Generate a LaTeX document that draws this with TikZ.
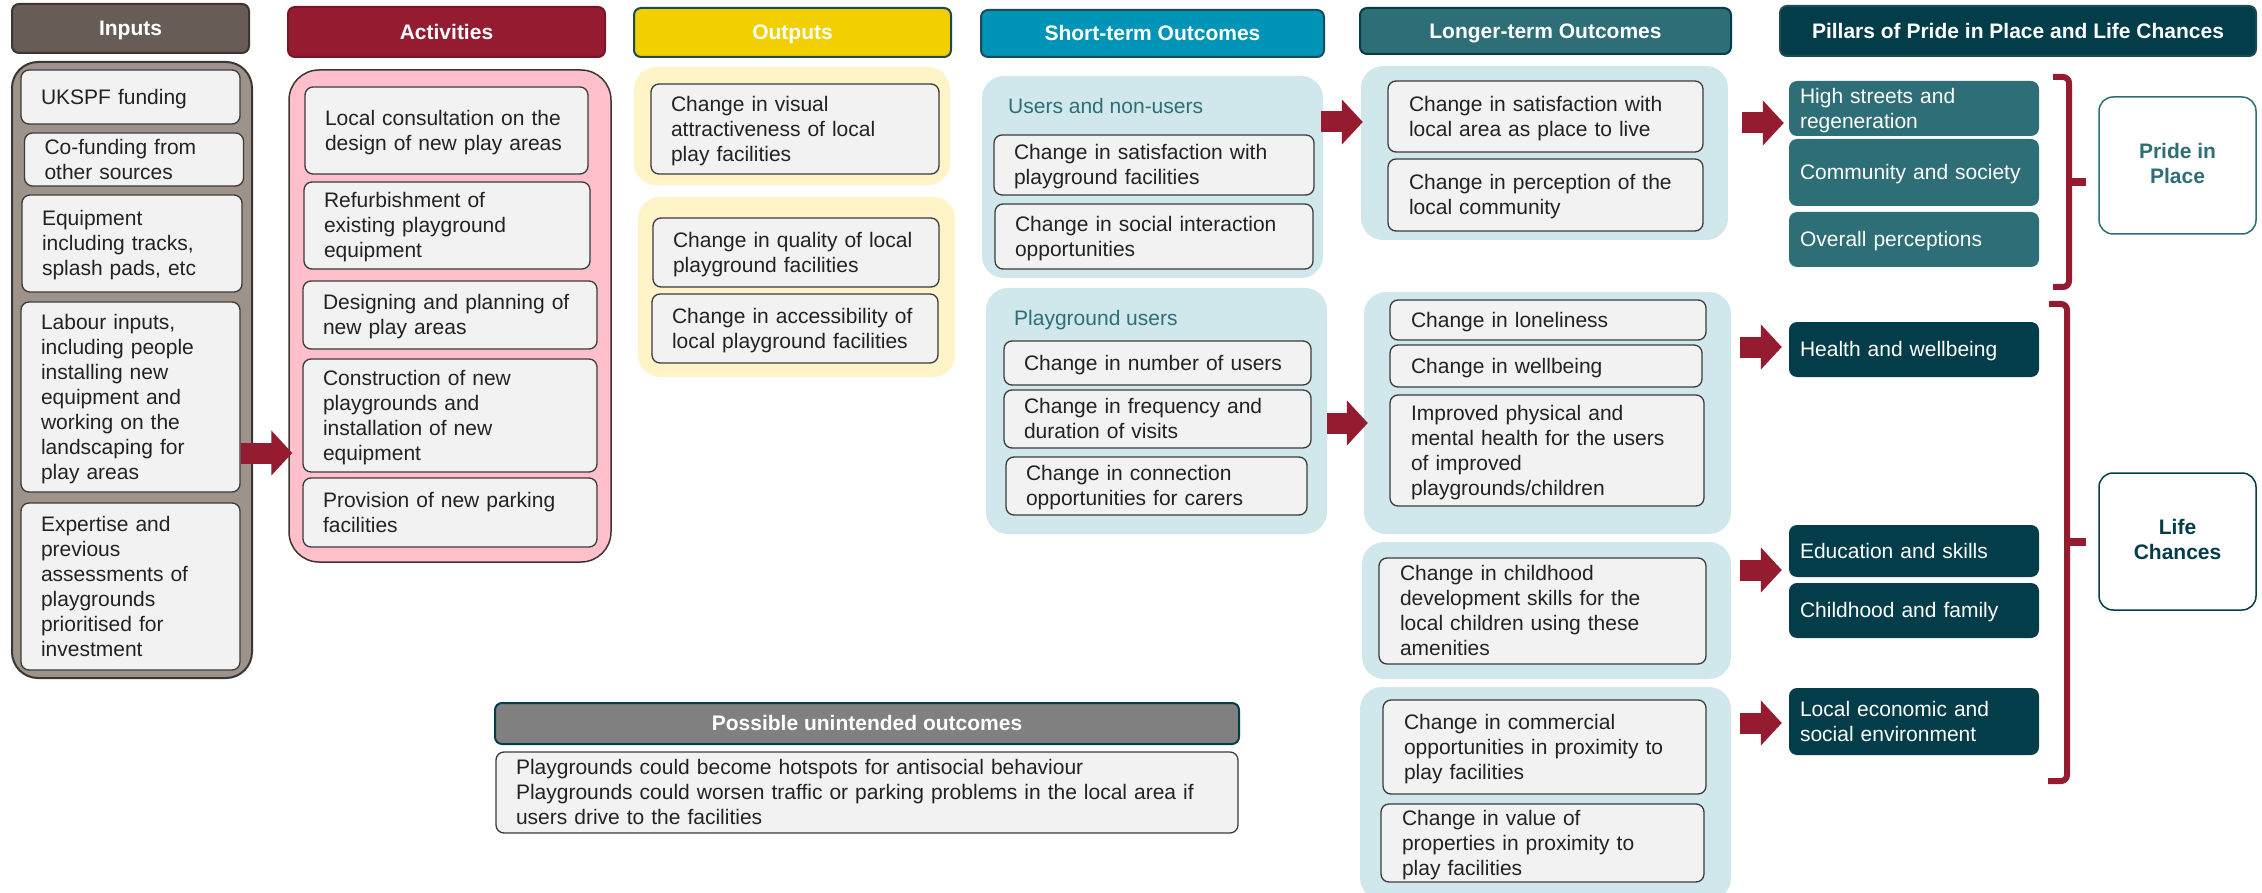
\documentclass[tikz,border=0pt]{standalone}
\usepackage{fontspec}
\setmainfont{Liberation Sans}
\usetikzlibrary{arrows.meta}

\definecolor{inhdr}{HTML}{675D56}
\definecolor{inbody}{HTML}{9E938A}
\definecolor{inedge}{HTML}{3D3532}
\definecolor{actred}{HTML}{941B30}
\definecolor{actpink}{HTML}{FFC0CB}
\definecolor{outyel}{HTML}{F2CF00}
\definecolor{outpale}{HTML}{FFF4C8}
\definecolor{stblue}{HTML}{0094B7}
\definecolor{ltteal}{HTML}{2E6E77}
\definecolor{pildark}{HTML}{033D4A}
\definecolor{pale}{HTML}{D0E8EC}
\definecolor{cellgrey}{HTML}{F2F2F2}
\definecolor{edge}{HTML}{3A3A3A}
\definecolor{hdredge}{HTML}{1C4A55}
\definecolor{txt}{HTML}{222222}
\definecolor{arrred}{HTML}{951B30}
\definecolor{ungrey}{HTML}{808080}

\newcommand{\topgap}{\rule{0pt}{19pt}}
\newcommand{\botgap}{\rule[-4.5pt]{0pt}{4.5pt}}

\begin{document}
\begin{tikzpicture}[x=1pt,y=-1pt,
		font=\fontsize{21pt}{25pt}\selectfont,
		lines/.style={execute at begin node=\topgap,execute at end node=\botgap},
		hdr/.style 2 args={lines,draw=#2,fill=#1,line width=2pt,rounded corners=7pt,text=white,font=\fontsize{21pt}{25pt}\selectfont\bfseries,inner sep=0pt},
		grp/.style={fill=#1,rounded corners=22pt,inner sep=0pt},
		cell/.style={lines,draw=edge,fill=cellgrey,line width=1.3pt,rounded corners=8pt,text=txt,align=left,inner xsep=20pt,inner ysep=0pt},
		pil/.style={lines,fill=#1,rounded corners=8pt,text=white,align=left,inner xsep=11pt,inner ysep=0pt,text width=228pt,minimum width=250pt},
		pillar/.style={lines,draw=#1,fill=white,line width=1.5pt,rounded corners=14pt,minimum width=157pt,minimum height=137pt,align=center,text=#1,font=\fontsize{21pt}{25pt}\selectfont\bfseries},
		fat/.style={draw=arrred,line width=21pt,-{Triangle[length=21pt,width=44pt]}},
		brace/.style={draw=arrred,line width=6pt}]
		\useasboundingbox (0,0) rectangle (2262,893);
		
		% headers
		\node[hdr={inhdr}{inedge},minimum width=237pt,minimum height=49pt] (inhd) at (130.5,28.5) {Inputs};
		\node[hdr={actred}{actred!80!black},minimum width=317pt,minimum height=50pt] (acthd) at (446.5,32) {Activities};
		\node[hdr={outyel}{hdredge},minimum width=317pt,minimum height=49pt] (outhd) at (792.5,32.5) {Outputs};
		\node[hdr={stblue}{hdredge},minimum width=343pt,minimum height=47pt] (sthd) at (1152.5,33.5) {Short-term Outcomes};
		\node[hdr={ltteal}{pildark},minimum width=371pt,minimum height=46pt] (lthd) at (1545.5,31) {Longer-term Outcomes};
		\node[hdr={pildark}{hdredge},minimum width=476pt,minimum height=50pt] (pilhd) at (2018,31) {Pillars of Pride in Place and Life Chances};
		\node[hdr={ungrey}{pildark},minimum width=744pt,minimum height=41pt] (unhd) at (867,723.5) {Possible unintended outcomes};
		
		% group boxes
		\node[grp=inbody,draw=inedge,line width=2pt,rounded corners=26pt,minimum width=240pt,minimum height=616pt] (inbox) at (132,370) {};
		\node[grp=actpink,draw=inedge,line width=1.5pt,rounded corners=30pt,minimum width=322pt,minimum height=492pt] (actbox) at (450,316) {};
		\node[grp=outpale,minimum width=316pt,minimum height=118pt] (out1) at (792,126) {};
		\node[grp=outpale,minimum width=317pt,minimum height=180pt] (out2) at (796.5,287) {};
		\node[grp=pale,minimum width=341pt,minimum height=202pt] (st1) at (1152.5,177) {};
		\node[grp=pale,minimum width=341pt,minimum height=246pt] (st2) at (1156.5,411) {};
		\node[grp=pale,minimum width=367pt,minimum height=174pt] (lt1) at (1544.5,153) {};
		\node[grp=pale,minimum width=367pt,minimum height=242pt] (lt2) at (1547.5,413) {};
		\node[grp=pale,minimum width=369pt,minimum height=137pt] (lt3) at (1546.5,610.5) {};
		\node[grp=pale,minimum width=371pt,minimum height=213pt] (lt4) at (1545.5,793.5) {};
		
		% inputs
		\node[cell,minimum width=219pt,minimum height=54pt,text width=179pt] (ukspf) at (130.5,97) {UKSPF funding};
		\node[cell,minimum width=219pt,minimum height=53pt,text width=179pt] (cofund) at (134,159.5) {Co-funding from\\other sources};
		\node[cell,minimum width=220pt,minimum height=97pt,text width=180pt] (equip) at (132,243.5) {Equipment\\including tracks,\\splash pads, etc};
		\node[cell,minimum width=219pt,minimum height=190pt,text width=179pt] (labour) at (130.5,397) {Labour inputs,\\including people\\installing new\\equipment and\\working on the\\landscaping for\\play areas};
		\node[cell,minimum width=219pt,minimum height=167pt,text width=179pt] (expert) at (130.5,586.5) {Expertise and\\previous\\assessments of\\playgrounds\\prioritised for\\investment};
		
		% activities
		\node[cell,minimum width=283pt,minimum height=87pt,text width=243pt] (consult) at (446.5,130.5) {Local consultation on the\\design of new play areas};
		\node[cell,minimum width=286pt,minimum height=87pt,text width=246pt] (refurb) at (447,225.5) {Refurbishment of\\existing playground\\equipment};
		\node[cell,minimum width=294pt,minimum height=68pt,text width=254pt] (design) at (450,315) {Designing and planning of\\new play areas};
		\node[cell,minimum width=294pt,minimum height=113pt,text width=254pt] (constr) at (450,415.5) {Construction of new\\playgrounds and\\installation of new\\equipment};
		\node[cell,minimum width=294pt,minimum height=69pt,text width=254pt] (parking) at (450,512.5) {Provision of new parking\\facilities};
		
		% outputs
		\node[cell,minimum width=288pt,minimum height=90pt,text width=248pt] (visual) at (795,129) {Change in visual\\attractiveness of local\\play facilities};
		\node[cell,minimum width=286pt,minimum height=69pt,text width=246pt] (quality) at (796,252.5) {Change in quality of local\\playground facilities};
		\node[cell,minimum width=286pt,minimum height=69pt,text width=246pt] (access) at (795,328.5) {Change in accessibility of\\local playground facilities};
		
		% short-term outcomes
		\node[anchor=west,inner sep=0pt,text=ltteal] (usr) at (1008,106) {Users and non-users};
		\node[cell,minimum width=320pt,minimum height=60pt,text width=280pt] (stsat) at (1154,165) {Change in satisfaction with\\playground facilities};
		\node[cell,minimum width=318pt,minimum height=65pt,text width=278pt] (stsoc) at (1154,236.5) {Change in social interaction\\opportunities};
		\node[anchor=west,inner sep=0pt,text=ltteal] (pgu) at (1014,320) {Playground users};
		\node[cell,minimum width=307pt,minimum height=44pt,text width=267pt] (stnum) at (1157.5,363) {Change in number of users};
		\node[cell,minimum width=307pt,minimum height=58pt,text width=267pt] (stfreq) at (1157.5,419) {Change in frequency and\\duration of visits};
		\node[cell,minimum width=301pt,minimum height=58pt,text width=261pt] (stcon) at (1156.5,486) {Change in connection\\opportunities for carers};
		
		% longer-term outcomes
		\node[cell,minimum width=315pt,minimum height=71pt,text width=273pt,inner xsep=21pt] (ltsat) at (1545.5,116.5) {Change in satisfaction with\\local area as place to live};
		\node[cell,minimum width=315pt,minimum height=72pt,text width=273pt,inner xsep=21pt] (ltper) at (1545.5,195) {Change in perception of the\\local community};
		\node[cell,minimum width=316pt,minimum height=40pt,text width=274pt,inner xsep=21pt] (ltlone) at (1548,320) {Change in loneliness};
		\node[cell,minimum width=312pt,minimum height=42pt,text width=270pt,inner xsep=21pt] (ltwell) at (1546,366) {Change in wellbeing};
		\node[cell,minimum width=314pt,minimum height=111pt,text width=272pt,inner xsep=21pt] (ltphys) at (1547,450.5) {Improved physical and\\mental health for the users\\of improved\\playgrounds/children};
		\node[cell,minimum width=327pt,minimum height=106pt,text width=285pt,inner xsep=21pt] (ltchild) at (1542.5,611) {Change in childhood\\development skills for the\\local children using these\\amenities};
		\node[cell,minimum width=323pt,minimum height=94pt,text width=281pt,inner xsep=21pt] (ltcomm) at (1544.5,747) {Change in commercial\\opportunities in proximity to\\play facilities};
		\node[cell,minimum width=323pt,minimum height=78pt,text width=281pt,inner xsep=21pt] (ltval) at (1542.5,843) {Change in value of\\properties in proximity to\\play facilities};
		
		% pillars
		\node[pil=ltteal,minimum height=55pt] (pil1) at (1914,108.5) {High streets and\\regeneration};
		\node[pil=ltteal,minimum height=67pt] (pil2) at (1914,172.5) {Community and society};
		\node[pil=ltteal,minimum height=55pt] (pil3) at (1914,239.5) {Overall perceptions};
		\node[pil=pildark,minimum height=55pt] (pil4) at (1914,349.5) {Health and wellbeing};
		\node[pil=pildark,minimum height=52pt] (pil5) at (1914,551) {Education and skills};
		\node[pil=pildark,minimum height=55pt] (pil6) at (1914,610.5) {Childhood and family};
		\node[pil=pildark,minimum height=67pt] (pil7) at (1914,721.5) {Local economic and\\social environment};
		\node[pillar=ltteal] (pride) at (2177.5,165.5) {Pride in\\Place};
		\node[pillar=pildark] (life) at (2177.5,541.5) {Life\\Chances};
		
		% unintended
		\node[cell,minimum width=742pt,minimum height=81pt,text width=702pt,inner xsep=20pt] (unbox) at (867,792.5) {Playgrounds could become hotspots for antisocial behaviour\\Playgrounds could worsen traffic or parking problems in the local area if\\users drive to the facilities};
		
		% arrows
		\coordinate (a1) at (241,453);
		\coordinate (a2) at (1321,122);
		\coordinate (a3) at (1327,423);
		\coordinate (a4) at (1742,123);
		\coordinate (a5) at (1740,347);
		\coordinate (a6) at (1740,570);
		\coordinate (a7) at (1740,723);
		\draw[fat,shorten >=-4pt] (a1) -- (a1 -| actbox.west);
		\draw[fat,shorten >=-2pt] (a2) -- (a2 -| lt1.west);
		\draw[fat,shorten >=-4pt] (a3) -- (a3 -| lt2.west);
		\draw[fat,shorten >=5pt] (a4) -- (a4 -| pil1.west);
		\draw[fat,shorten >=7pt] (a5) -- (a5 -| pil4.west);
		\draw[fat,shorten >=7pt] (a6) -- (a6 -| pil5.west);
		\draw[fat,shorten >=7pt] (a7) -- (a7 -| pil7.west);
		
		% brackets
		\draw[brace,rounded corners=6pt] (2053,77) -- (2069,77) -- (2069,287) -- (2053,287);
		\draw[brace,line width=8pt] (2069,182) -- (2086,182);
		\draw[brace,rounded corners=6pt] (2049,304) -- (2067,304) -- (2067,781) -- (2048,781);
		\draw[brace,line width=8pt] (2067,542) -- (2086,542);
	\end{tikzpicture}
\end{document}
